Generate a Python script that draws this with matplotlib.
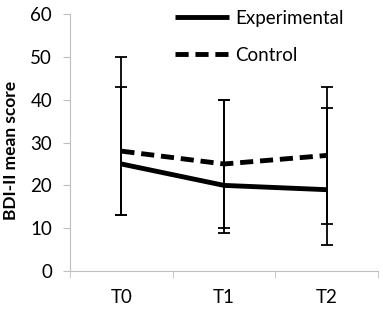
import matplotlib.pyplot as plt

times = ['T0', 'T1', 'T2']
experimental = [25, 20, 19]
exp_err_low = [12, 11, 13]
exp_err_high = [25, 20, 19]
control = [28, 25, 27]
ctrl_err = [15, 15, 16]

plt.rcParams['font.family'] = ['Lato', 'DejaVu Sans']

fig = plt.figure(figsize=(3.83, 3.13), dpi=100)
ax = fig.add_axes([0.183, 0.134, 0.804, 0.821])

x = list(range(len(times)))
ax.errorbar(x, control, yerr=ctrl_err, fmt='none', ecolor='black',
            elinewidth=1.3, capsize=4, capthick=1.3)
ax.errorbar(x, experimental, yerr=[exp_err_low, exp_err_high], fmt='none',
            ecolor='black', elinewidth=1.3, capsize=4, capthick=1.3)
ax.plot(x, experimental, color='black', lw=3.5, solid_capstyle='butt',
        label='Experimental')
ax.plot(x, control, color='black', lw=3.5, ls=(0, (2.7, 1.4)),
        label='Control')

ax.set_xlim(-0.5, 2.5)
ax.set_ylim(0, 60)
ax.set_yticks(range(0, 61, 10))
ax.set_xticks(x)
ax.set_xticklabels(times)
ax.set_xticks([-0.5, 0.5, 1.5, 2.5], minor=True)
ax.tick_params(axis='x', which='major', length=0, pad=13, labelsize=13.5)
ax.tick_params(axis='x', which='minor', length=5, color='#bfbfbf')
ax.tick_params(axis='y', length=5, color='#bfbfbf', labelsize=13.5, pad=8)
for s in ['top', 'right']:
    ax.spines[s].set_visible(False)
for s in ['left', 'bottom']:
    ax.spines[s].set_color('#bfbfbf')
ax.set_ylabel('BDI-II mean score', fontsize=12.5, fontweight='bold')
ax.yaxis.set_label_coords(-0.165, 0.47)

fig.legend(loc='upper left', bbox_to_anchor=(175 / 383, 1 - 10 / 313),
           frameon=False, fontsize=13.5, handlelength=2.9, labelspacing=1.05,
           handletextpad=0.3, borderpad=0, borderaxespad=0)

fig.savefig('out.png', dpi=100)
